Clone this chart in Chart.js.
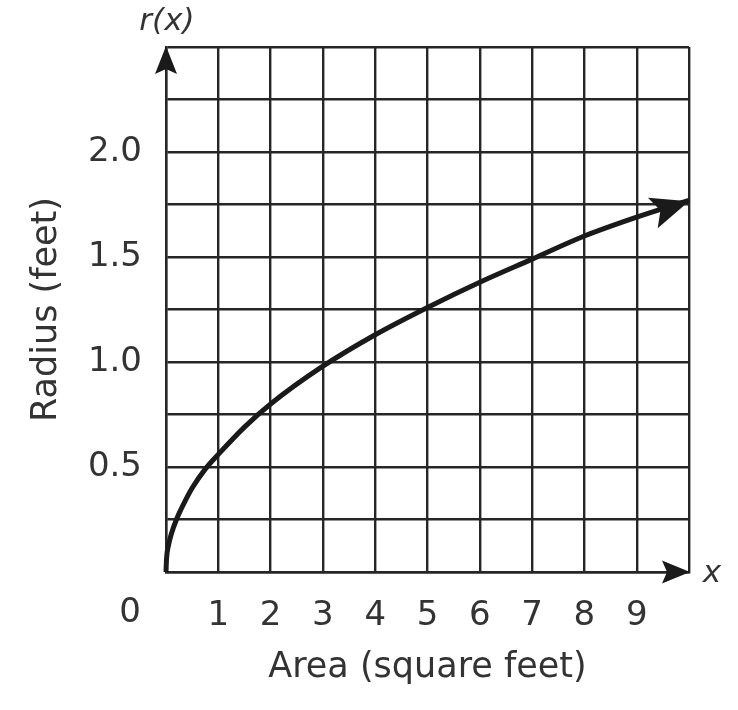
<!DOCTYPE html>
<html>
<head>
<meta charset="utf-8">
<script src="https://cdn.jsdelivr.net/npm/chart.js@4/dist/chart.umd.min.js"></script>
<style>
  html, body { margin: 0; padding: 0; background: #fff; }
  #wrap { width: 738px; height: 710px; }
</style>
</head>
<body>
<div id="wrap"><canvas id="radius"></canvas></div>
<script>
// area (sq ft) -> radius (ft)
var areas  = [0, 0.01, 0.05, 0.1, 0.2, 0.35, 0.5, 0.75, 1, 1.5, 2, 3, 4, 5, 6, 7, 8, 9, 10]
var radius = [0, 0.06, 0.13, 0.18, 0.25, 0.33, 0.40, 0.49, 0.56, 0.69, 0.80, 0.98, 1.13, 1.26, 1.38, 1.49, 1.60, 1.69, 1.77]
var xTickLabels = ['1', '2', '3', '4', '5', '6', '7', '8', '9']
var yTickLabels = ['0.5', '1.0', '1.5', '2.0']

var gridInk = '#262626'
var textInk = '#333'
var font = '"DejaVu Sans", Verdana, sans-serif'

function arrowHead(ctx, tipX, tipY, angle, len, half, notch) {
  ctx.save()
  ctx.translate(tipX, tipY)
  ctx.rotate(angle)
  ctx.beginPath()
  ctx.moveTo(0, 0)
  ctx.lineTo(-len, -half)
  ctx.lineTo(-len + notch, 0)
  ctx.lineTo(-len, half)
  ctx.closePath()
  ctx.fillStyle = '#1a1a1a'
  ctx.fill()
  ctx.restore()
}

var extras = {
  id: 'extras',
  afterDraw: function (chart) {
    var ctx = chart.ctx
    var a = chart.chartArea
    var xs = chart.scales.x, ys = chart.scales.y
    // axis arrows
    arrowHead(ctx, a.left, a.top - 1, -Math.PI / 2, 28, 11, 5)
    arrowHead(ctx, a.right + 1, a.bottom, 0, 28, 11.5, 5)
    // curve arrow
    var n = areas.length
    var x1 = xs.getPixelForValue(areas[n - 2]), y1 = ys.getPixelForValue(radius[n - 2])
    var x2 = xs.getPixelForValue(areas[n - 1]), y2 = ys.getPixelForValue(radius[n - 1])
    arrowHead(ctx, x2, y2 + 1, Math.atan2(y2 - y1, x2 - x1), 38, 16, 8)

    ctx.save()
    ctx.fillStyle = textInk
    ctx.textAlign = 'center'
    ctx.textBaseline = 'middle'
    ctx.font = 'italic 31px ' + font
    ctx.fillText('r(x)', a.left + 1, 22)
    ctx.fillText('x', a.right + 23, a.bottom + 2)
    ctx.font = '34px ' + font
    ctx.fillText('0', 130, 613)
    ctx.restore()
  }
}

new Chart(document.getElementById('radius'), {
  type: 'scatter',
  data: {
    datasets: [{
      data: areas.map(function (v, i) { return {x: v, y: radius[i]} }),
      showLine: true,
      borderColor: '#1a1a1a',
      borderWidth: 5,
      pointRadius: 0,
      cubicInterpolationMode: 'monotone',
      clip: false
    }]
  },
  options: {
    responsive: true,
    maintainAspectRatio: false,
    animation: false,
    events: [],
    layout: {padding: {left: 22, right: 49, top: 47, bottom: 17}},
    plugins: {legend: {display: false}, tooltip: {enabled: false}},
    scales: {
      x: {
        type: 'linear', min: 0, max: 10,
        afterFit: function (s) { s.height = 121 },
        grid: {color: gridInk, lineWidth: 2.4, drawTicks: false},
        border: {color: gridInk, width: 2.4},
        ticks: {
          stepSize: 1, padding: 24, color: textInk, maxRotation: 0,
          font: {family: font, size: 34},
          callback: function (v) { return xTickLabels.indexOf(String(v)) >= 0 ? String(v) : '' }
        },
        title: {display: true, text: 'Area (square feet)', color: textInk, font: {family: font, size: 35}}
      },
      y: {
        type: 'linear', min: 0, max: 2.5,
        afterFit: function (s) { s.width = 144 },
        grid: {color: gridInk, lineWidth: 2.4, drawTicks: false},
        border: {color: gridInk, width: 2.4},
        ticks: {
          stepSize: 0.25, padding: 24, color: textInk,
          font: {family: font, size: 34},
          callback: function (v) { var t = v.toFixed(1); return yTickLabels.indexOf(t) >= 0 && Math.abs(v * 2 - Math.round(v * 2)) < 1e-9 ? t : '' }
        },
        title: {display: true, text: 'Radius (feet)', color: textInk, font: {family: font, size: 35}}
      }
    }
  },
  plugins: [extras]
})
</script>
</body>
</html>
